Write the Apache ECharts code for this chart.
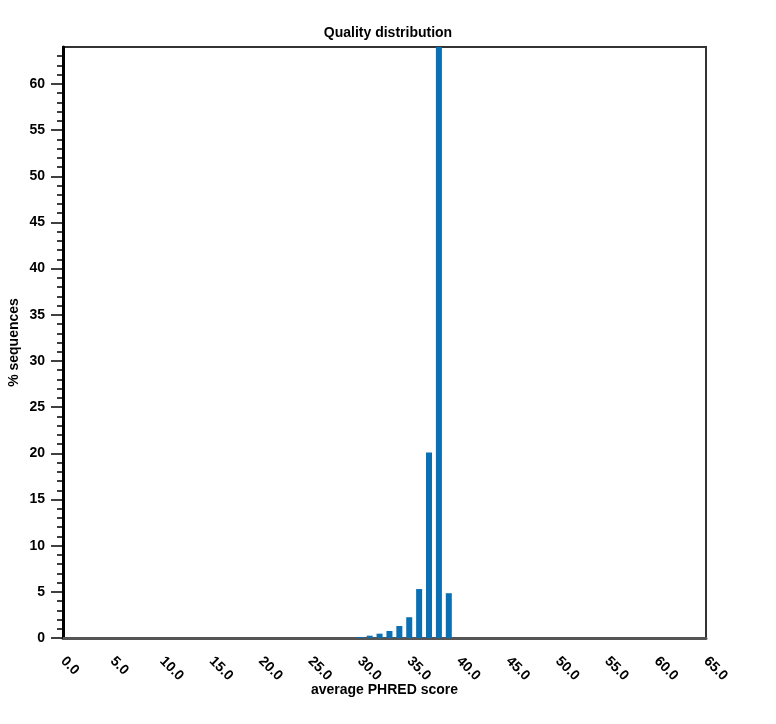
<!DOCTYPE html>
<html>
<head>
<meta charset="utf-8">
<script src="https://cdn.jsdelivr.net/npm/echarts@6/dist/echarts.min.js"></script>
<style>
  html, body { margin: 0; padding: 0; background: #fff; }
  #chart { width: 776px; height: 724px; }
</style>
</head>
<body>
<div id="chart"></div>
<script>
// average PHRED score per bin and % of sequences
var scores = [30, 31, 32, 33, 34, 35, 36, 37, 38, 39];
var percents = [0.1, 0.25, 0.47, 0.76, 1.3, 2.25, 5.3, 20.1, 64, 4.85];
var yLabels = [0, 5, 10, 15, 20, 25, 30, 35, 40, 45, 50, 55, 60];
var yMinor = [];
for (var i = 0; i < 64; i++) { yMinor.push(i); }

var font = 'Liberation Sans, Arial, sans-serif';
var chart = echarts.init(document.getElementById('chart'));

var data = [];
for (var j = 0; j < scores.length; j++) {
    data.push([scores[j], percents[j]]);
}

var option = {
    backgroundColor: '#fff',
    animation: false,
    title: {
        text: 'Quality distribution',
        left: 'center',
        top: 21,
        textStyle: { fontFamily: font, fontSize: 14, fontWeight: 'bold', color: '#000' }
    },
    grid: {
        left: 63, right: 70, top: 47, bottom: 86,
        containLabel: false,
        outerBoundsMode: 'none',
        show: true,
        borderColor: '#333',
        borderWidth: 2,
        backgroundColor: '#fff'
    },
    xAxis: {
        type: 'value',
        min: 0, max: 65, interval: 5,
        name: 'average PHRED score',
        nameLocation: 'middle',
        nameGap: 45,
        nameMoveOverlap: false,
        nameTextStyle: { fontFamily: font, fontSize: 14, fontWeight: 'bold', color: '#000' },
        axisLine: { show: true, lineStyle: { color: '#555', width: 3 } },
        axisTick: { show: false },
        splitLine: { show: false },
        axisLabel: {
            rotate: -45,
            margin: 21,
            fontFamily: font, fontSize: 14, fontWeight: 'bold', color: '#000',
            formatter: function (v) { return v.toFixed(1); }
        }
    },
    yAxis: [{
        type: 'value',
        min: 0, max: 64, interval: 1,
        name: '% sequences',
        nameLocation: 'middle',
        nameGap: 42,
        nameMoveOverlap: false,
        nameRotate: 90,
        nameTextStyle: { fontFamily: font, fontSize: 14, fontWeight: 'bold', color: '#000' },
        axisLine: { show: true, lineStyle: { color: '#000', width: 3 } },
        axisTick: { show: true, length: 6, customValues: yMinor, lineStyle: { color: '#000', width: 1.5 } },
        splitLine: { show: false },
        axisLabel: {
            customValues: yLabels,
            margin: 18,
            fontFamily: font, fontSize: 14, fontWeight: 'bold', color: '#000'
        }
    }, {
        type: 'value',
        position: 'left',
        min: 0, max: 64, interval: 1,
        axisLine: { show: false },
        axisTick: { show: true, length: 12, customValues: yLabels, lineStyle: { color: '#000', width: 1.5 } },
        axisLabel: { show: false },
        splitLine: { show: false }
    }],
    series: [{
        type: 'bar',
        yAxisIndex: 0,
        barWidth: 6,
        itemStyle: { color: '#0a6fb3' },
        data: data
    }]
};

chart.setOption(option);
</script>
</body>
</html>
